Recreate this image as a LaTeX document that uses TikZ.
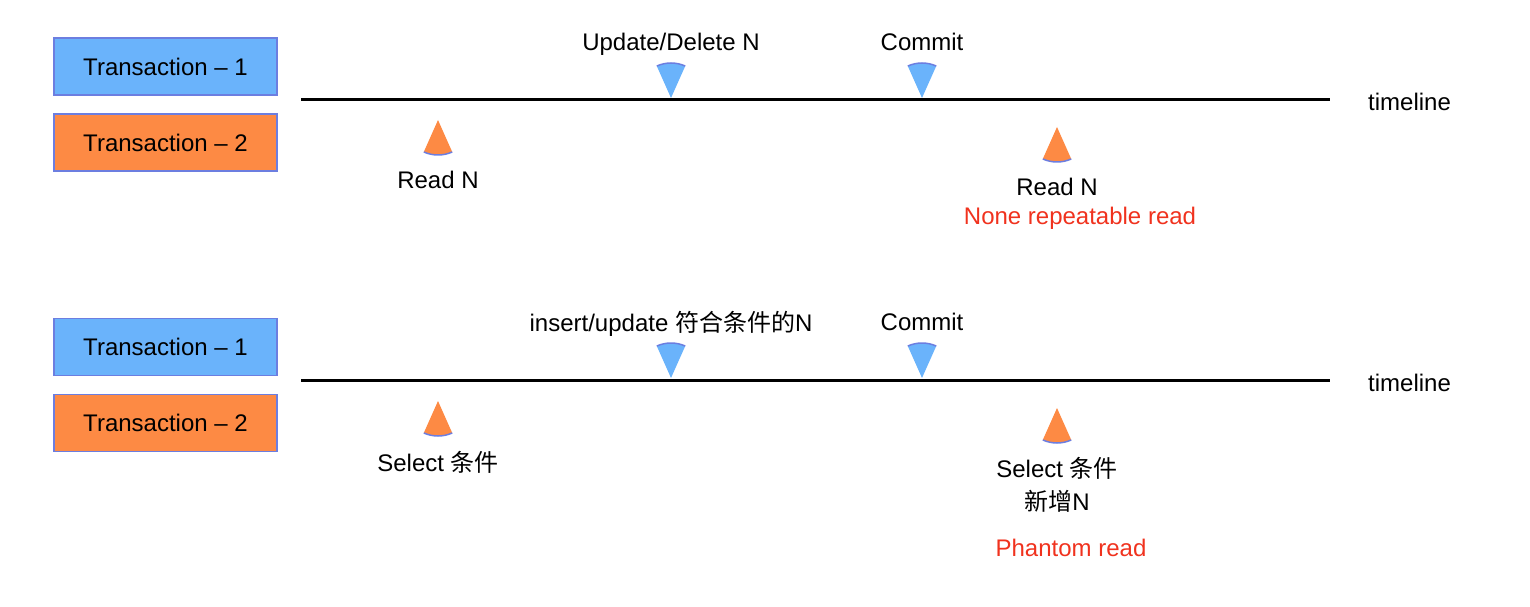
\documentclass[tikz,border=0pt]{standalone}
\usepackage{fontspec}
\setmainfont{Liberation Sans}
\newfontfamily\cjk{Noto Sans CJK SC}
\definecolor{tblue}{HTML}{6AB3FB}
\definecolor{torange}{HTML}{FD8A44}
\definecolor{tedge}{HTML}{6C7EE0}
\definecolor{tred}{HTML}{F0321E}
\tikzset{
  txbox/.style={draw=tedge, line width=1.5pt, minimum width=223pt, minimum height=57pt, inner sep=0pt, font=\fontsize{24pt}{28pt}\selectfont},
  lbl/.style={inner sep=0pt, text height=17pt, text depth=0pt, font=\fontsize{24pt}{28pt}\selectfont},
  tline/.style={line width=3pt, black},
  bsec/.pic={
    \fill[tblue] (0,0) -- (66:35pt) arc[start angle=66, end angle=114, radius=35pt] -- cycle;
    \draw[tedge, line width=1.5pt] (66:35pt) arc[start angle=66, end angle=114, radius=35pt];
  },
  osec/.pic={
    \fill[torange] (0,0) -- (246:35pt) arc[start angle=246, end angle=294, radius=35pt] -- cycle;
    \draw[tedge, line width=1.5pt] (246:35pt) arc[start angle=246, end angle=294, radius=35pt];
  }
}
\begin{document}
\begin{tikzpicture}[x=1pt, y=1pt]
\useasboundingbox (0,0) rectangle (1530,606);
% ---------- upper scenario (pixel y -> 606 - y) ----------
\node[txbox, fill=tblue] (t1a) at (165.5,539.5) {Transaction -- 1};
\node[txbox, fill=torange] (t2a) at (165.5,463.5) {Transaction -- 2};
\coordinate (la) at (301,506);
\coordinate (ra) at (1330,506);
\draw[tline] (la) -- (ra);
\node[lbl, anchor=west] (tla) at (1368,504) {timeline};
\pic at (671,508) {bsec};
\pic at (922,508) {bsec};
\node[lbl] (upd) at (671,564) {Update/Delete N};
\node[lbl] (cma) at (922,564) {Commit};
\pic at (438,486) {osec};
\pic at (1057,479) {osec};
\node[lbl] (rn1) at (438,426) {Read N};
\node[lbl] (rn2) at (1057,419) {Read N};
\node[lbl, text=tred] (nrr) at (1080,390) {None repeatable read};
% ---------- lower scenario ----------
\node[txbox, fill=tblue] (t1b) at (165.5,259) {Transaction -- 1};
\node[txbox, fill=torange] (t2b) at (165.5,183) {Transaction -- 2};
\coordinate (lb) at (301,226);
\coordinate (rb) at (1330,226);
\draw[tline] (lb) -- (rb);
\node[lbl, anchor=west] (tlb) at (1368,223) {timeline};
\pic at (671,228) {bsec};
\pic at (922,228) {bsec};
\node[lbl] (ins) at (671,283) {insert/update {\cjk 符合条件的}N};
\node[lbl] (cmb) at (922,284) {Commit};
\pic at (438,205) {osec};
\pic at (1057,198) {osec};
\node[lbl] (sel1) at (438,143) {Select {\cjk 条件}};
\node[lbl] (sel2) at (1057,137) {Select {\cjk 条件}};
\node[lbl] (xz) at (1057,104) {{\cjk 新增}N};
\node[lbl, text=tred] (ph) at (1071,58) {Phantom read};
\end{tikzpicture}
\end{document}
